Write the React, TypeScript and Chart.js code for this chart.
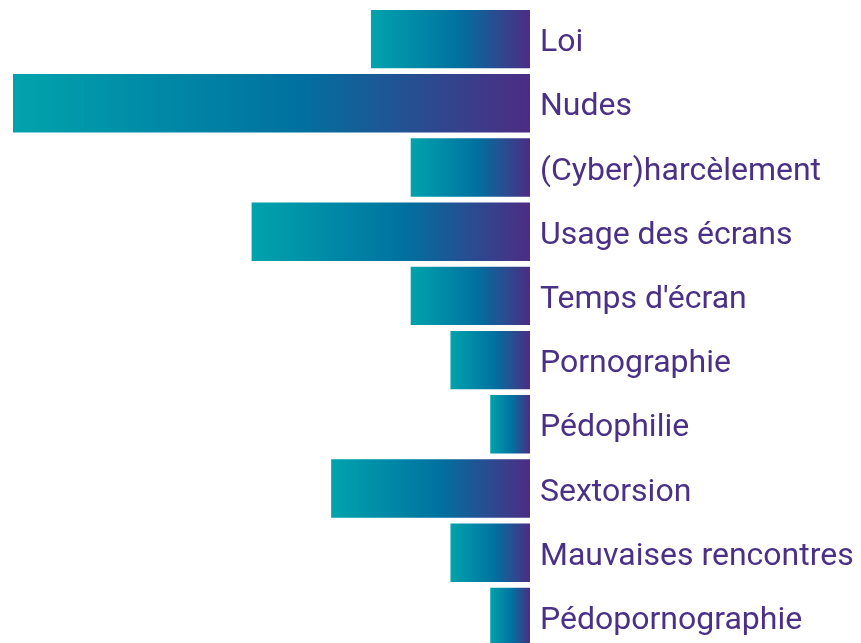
import React, { useEffect, useRef } from "react";
import { Chart, registerables } from "chart.js";

Chart.register(...registerables);

const categories = [
  "Loi",
  "Nudes",
  "(Cyber)harcèlement",
  "Usage des écrans",
  "Temps d'écran",
  "Pornographie",
  "Pédophilie",
  "Sextorsion",
  "Mauvaises rencontres",
  "Pédopornographie",
];
const values = [8, 26, 6, 14, 6, 4, 2, 10, 4, 2];

const gradientStops: [number, string][] = [
  [0, "#00a3ad"],
  [0.55, "#0071a0"],
  [1, "#4d2c83"],
];
const labelColor = "#4a3187";

function barGradient(context: any) {
  const chart = context.chart;
  const xScale = chart.scales.x;
  if (!chart.chartArea || !xScale || context.dataIndex === undefined) return "#0071a0";
  const v = context.dataset.data[context.dataIndex];
  const a = xScale.getPixelForValue(v);
  const b = xScale.getPixelForValue(0);
  const x0 = Math.min(a, b);
  const x1 = Math.max(a, b);
  if (!isFinite(x0) || !isFinite(x1) || x1 - x0 < 1) return "#0071a0";
  const g = chart.ctx.createLinearGradient(x0, 0, x1, 0);
  gradientStops.forEach(([o, c]) => g.addColorStop(o, c));
  return g;
}

export default function App() {
  const ref = useRef<HTMLCanvasElement>(null);
  useEffect(() => {
    if (!ref.current) return;
    const chart = new Chart(ref.current, {
      type: "bar",
      data: {
        labels: categories,
        datasets: [
          {
            data: values,
            backgroundColor: barGradient,
            borderWidth: 0,
            barPercentage: 1,
            categoryPercentage: 0.91,
          },
        ],
      },
      options: {
        indexAxis: "y",
        animation: false,
        responsive: false,
        maintainAspectRatio: false,
        layout: { padding: { left: 13, top: 7, bottom: 1, right: 0 } },
        plugins: { legend: { display: false }, tooltip: { enabled: false } },
        scales: {
          x: {
            reverse: true,
            min: 0,
            max: 26,
            display: false,
          },
          y: {
            position: "right",
            grid: { display: false, drawTicks: false },
            border: { display: false },
            ticks: {
              color: labelColor,
              padding: 10,
              labelOffset: 4,
              font: { family: "Roboto", size: 32 },
            },
            afterFit(scale: any) {
              scale.width = 331;
              scale.paddingTop = 0;
              scale.paddingBottom = 0;
            },
          },
        },
      },
    });
    chart.update();
    return () => chart.destroy();
  }, []);
  return (
    <div
      style={{
        position: "fixed",
        left: 0,
        top: 0,
        width: 861,
        height: 643,
        overflow: "hidden",
        background: "#fff",
      }}
    >
      <canvas ref={ref} width={861} height={650} style={{ display: "block" }} />
    </div>
  );
}
